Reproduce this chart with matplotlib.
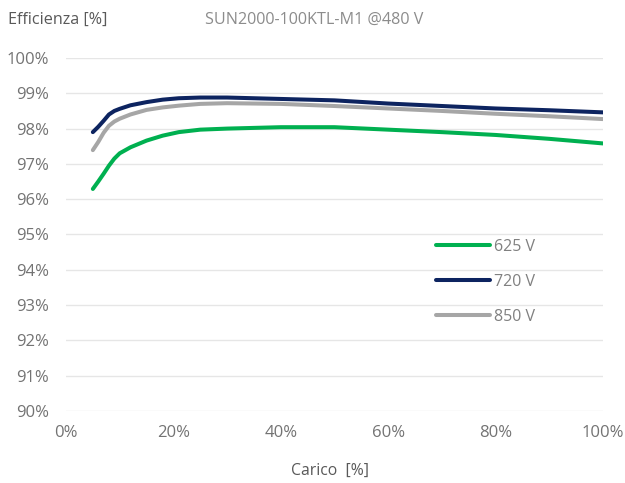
import matplotlib
matplotlib.use("Agg")
import matplotlib.pyplot as plt

plt.rcParams['font.family'] = ['Open Sans', 'DejaVu Sans']

load = [5, 6, 7, 8, 9, 10, 12, 15, 18, 21, 25, 30, 40, 50, 60, 70, 80, 90, 100]
eff_625 = [96.29, 96.5, 96.72, 96.95, 97.15, 97.3, 97.47, 97.66, 97.8, 97.9, 97.97, 98.0,
           98.04, 98.04, 97.97, 97.9, 97.82, 97.71, 97.58]
eff_720 = [97.9, 98.05, 98.22, 98.4, 98.5, 98.56, 98.66, 98.75, 98.82, 98.86, 98.88, 98.88,
           98.84, 98.8, 98.71, 98.64, 98.57, 98.52, 98.46]
eff_850 = [97.39, 97.62, 97.88, 98.08, 98.2, 98.28, 98.4, 98.53, 98.6, 98.65, 98.7, 98.72,
           98.7, 98.64, 98.57, 98.5, 98.42, 98.35, 98.27]
series_labels = ['625 V', '720 V', '850 V']
colors = ['#00b050', '#0d2460', '#a6a6a6']
yticks = list(range(90, 101))
xticks = [0, 20, 40, 60, 80, 100]

fig = plt.figure(figsize=(6.25, 4.83), dpi=100)
ax = fig.add_axes([66/625, 1-411/483, (603-66)/625, (411-58)/483])

for y, c, lab in zip([eff_625, eff_720, eff_850], colors, series_labels):
    ax.plot(load, y, color=c, lw=2.9, solid_capstyle='round', solid_joinstyle='round', label=lab)

ax.set_xlim(0, 100)
ax.set_ylim(90, 100)
ax.set_yticks(yticks)
ax.set_yticklabels([f"{t}%" for t in yticks])
ax.set_xticks(xticks)
ax.set_xticklabels([f"{t}%" for t in xticks])
ax.grid(axis='y', color='#e6e6e6', lw=1)
ax.set_axisbelow(True)
for s in ax.spines.values():
    s.set_visible(False)
ax.tick_params(length=0, labelsize=12, colors='#737373')
ax.tick_params(axis='x', pad=10)
ax.tick_params(axis='y', pad=12.5)

leg = ax.legend(loc='upper left', bbox_to_anchor=(0.689, 0.488), frameon=False,
                borderpad=0, borderaxespad=0,
                handlelength=3.4, handletextpad=0.25, labelspacing=1.2,
                fontsize=11.5, labelcolor='#808080')

fig.text(8/625, 1-20/483, 'Efficienza [%]', fontsize=11.6, color='#595959', va='center', ha='left')
fig.text(205/625, 1-20/483, 'SUN2000-100KTL-M1 @480 V', fontsize=11.6, color='#8c8c8c', va='center', ha='left')
fig.text(330/625, 1-471/483, 'Carico  [%]', fontsize=11.3, color='#595959', va='center', ha='center')

fig.savefig('out.png', dpi=100, facecolor='white')
